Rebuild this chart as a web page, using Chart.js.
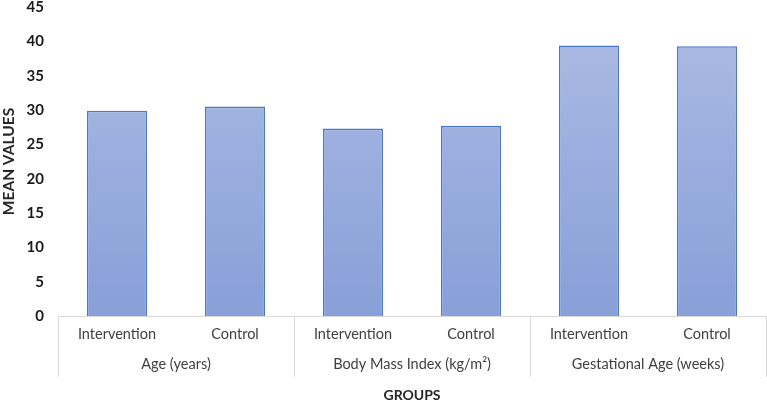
<!DOCTYPE html>
<html>
<head>
<meta charset="utf-8">
<script src="https://cdn.jsdelivr.net/npm/chart.js@4"></script>
<style>
html,body{margin:0;padding:0;background:#fff;}
#wrap{width:767px;height:400px;position:relative;}
</style>
</head>
<body>
<div id="wrap"><canvas id="c" width="767" height="400"></canvas></div>
<script>
const subLabels = ['Intervention', 'Control', 'Intervention', 'Control', 'Intervention', 'Control'];
const groupLabels = ['Age (years)', 'Body Mass Index (kg/m²)', 'Gestational Age (weeks)'];
const meanValues = [29.9, 30.5, 27.3, 27.7, 39.4, 39.3];
const yTicks = [0, 5, 10, 15, 20, 25, 30, 35, 40, 45];

const FONT = 'Lato, "Open Sans", sans-serif';

function barGradient(ctx) {
  const chart = ctx.chart;
  const area = chart.chartArea;
  if (!area) return '#98abdc';
  const y = chart.scales.y;
  const g = chart.ctx.createLinearGradient(0, y.getPixelForValue(45), 0, y.getPixelForValue(0));
  g.addColorStop(0, '#adbce3');
  g.addColorStop(1, '#889fd8');
  return g;
}

const separators = {
  id: 'separators',
  afterDraw(chart) {
    const x = chart.scales.x;
    const x2 = chart.scales.x2;
    const ctx = chart.ctx;
    const top = chart.chartArea.bottom;
    const bottom = x2.top + 31;
    const n = subLabels.length;
    const half = (x.getPixelForValue(1) - x.getPixelForValue(0)) / 2;
    ctx.save();
    ctx.strokeStyle = '#d9d9d9';
    ctx.lineWidth = 1;
    for (let i = 0; i <= n; i += 2) {
      const px = Math.round(i < n ? x.getPixelForValue(i) - half : x.getPixelForValue(n - 1) + half) + 0.5;
      ctx.beginPath();
      ctx.moveTo(px, top);
      ctx.lineTo(px, bottom);
      ctx.stroke();
    }
    ctx.restore();
  }
};

new Chart(document.getElementById('c'), {
  type: 'bar',
  data: {
    labels: subLabels,
    datasets: [{
      data: meanValues,
      backgroundColor: barGradient,
      borderColor: '#4a78cf',
      borderWidth: 1.6,
      barPercentage: 0.51,
      categoryPercentage: 1.0
    }]
  },
  options: {
    responsive: false,
    animation: false,
    devicePixelRatio: 1,
    layout: { padding: { top: 0, right: 1, left: 0, bottom: 0 } },
    plugins: { legend: { display: false }, tooltip: { enabled: false } },
    scales: {
      x: {
        position: 'bottom',
        grid: { display: false, drawTicks: false },
        border: { display: true, color: '#d9d9d9', width: 1 },
        ticks: { color: '#404040', font: { family: FONT, size: 14.5 }, padding: 10, maxRotation: 0 },
        afterFit(axis) { axis.height = 30; }
      },
      x2: {
        type: 'category',
        position: 'bottom',
        labels: groupLabels,
        grid: { display: false, drawTicks: false },
        border: { display: false },
        ticks: { color: '#404040', font: { family: FONT, size: 14.5 }, padding: 10, maxRotation: 0 },
        title: { display: true, text: 'GROUPS', color: '#262626', font: { family: FONT, size: 14, weight: 'bold' }, padding: { top: 0, bottom: -3.4 } },
        afterFit(axis) { axis.height = 54; }
      },
      y: {
        min: 0,
        max: 45,
        afterBuildTicks(axis) { axis.ticks = yTicks.map(v => ({ value: v })); },
        grid: { display: false, drawTicks: true, tickLength: 16 },
        border: { display: false },
        ticks: { color: '#1a1a1a', font: { family: FONT, size: 15, weight: 'bold' }, padding: -2 },
        title: { display: true, text: 'MEAN VALUES', color: '#262626', font: { family: FONT, size: 15.5, weight: 'bold' }, padding: { top: 0, bottom: 0 } },
        afterFit(axis) { axis.width = 58; }
      }
    }
  },
  plugins: [separators]
});
</script>
</body>
</html>
